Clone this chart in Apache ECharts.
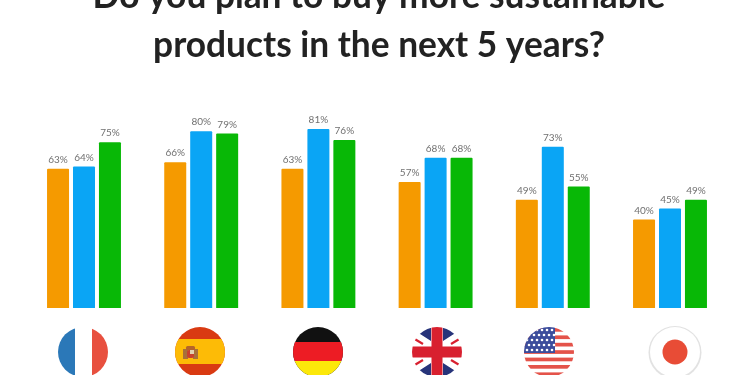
<!DOCTYPE html>
<html>
<head>
<meta charset="utf-8">
<style>
  html, body { margin: 0; padding: 0; background: #fff; }
  #chart { width: 750px; height: 375px; }
</style>
<script src="https://cdn.jsdelivr.net/npm/echarts@6/dist/echarts.min.js"></script>
</head>
<body>
<div id="chart"></div>
<script>
const countries = ['France', 'Spain', 'Germany', 'UK', 'USA', 'Japan'];
const firstBars = [63, 66, 63, 57, 49, 40];
const secondBars = [64, 80, 81, 68, 73, 45];
const thirdBars = [75, 79, 76, 68, 55, 49];
const flagCentres = [83, 200, 318, 437, 549, 675];

const round = (body) => 'data:image/svg+xml;utf8,' + encodeURIComponent(
  '<svg xmlns="http://www.w3.org/2000/svg" width="56" height="56" viewBox="0 0 56 56">' +
  '<defs><clipPath id="c"><circle cx="28" cy="28" r="25"/></clipPath></defs>' +
  '<g clip-path="url(#c)">' + body + '</g></svg>'
);

let usStars = '';
for (let r = 0; r < 5; r++) {
  for (let s = 0; s < 6; s++) {
    usStars += '<circle cx="' + (6 + s * 5 + (r % 2) * 2) + '" cy="' + (6 + r * 5) + '" r="1.3" fill="#fff"/>';
  }
}
let usStripes = '';
for (let i = 0; i < 7; i++) {
  usStripes += '<rect x="0" y="' + (4 + i * 7.4) + '" width="56" height="3.7" fill="#e4534a"/>';
}

const flags = {
  France: round('<rect width="20" height="56" fill="#2b78b8"/><rect x="20" width="17" height="56" fill="#fff"/><rect x="37" width="19" height="56" fill="#e8503f"/>'),
  Spain: round('<rect width="56" height="56" fill="#d93a12"/><rect y="15" width="56" height="25" fill="#fdbb06"/>' +
    '<rect x="11" y="25" width="5" height="10" fill="#a8703a"/><rect x="21" y="25" width="5" height="10" fill="#a8703a"/>' +
    '<rect x="14" y="22" width="9" height="4" rx="1.5" fill="#b5642a"/><rect x="15" y="26" width="7" height="8" rx="2" fill="#c8412e"/><rect x="18" y="26" width="4" height="4" fill="#e0d0b0"/>'),
  Germany: round('<rect width="56" height="56" fill="#111"/><rect y="18" width="56" height="19" fill="#ed1c24"/><rect y="37" width="56" height="19" fill="#fce80a"/>'),
  UK: round('<rect width="56" height="56" fill="#fff"/>' +
    '<path d="M22 17 L8 8 V0 H22 Z M34 17 L48 8 V0 H34 Z M22 39 L8 48 V56 H22 Z M34 39 L48 48 V56 H34 Z" fill="#27347a"/>' +
    '<path d="M4 14 L14 20 M52 14 L42 20 M4 42 L14 36 M52 42 L42 36" stroke="#d8202f" stroke-width="2.2"/>' +
    '<rect x="22.5" width="11" height="56" fill="#d8202f"/><rect y="22.5" width="56" height="11" fill="#d8202f"/>'),
  USA: round('<rect width="56" height="56" fill="#fff"/>' + usStripes + '<rect width="34" height="29" fill="#3c4d9c"/>' + usStars),
  Japan: 'data:image/svg+xml;utf8,' + encodeURIComponent(
    '<svg xmlns="http://www.w3.org/2000/svg" width="56" height="56" viewBox="0 0 56 56">' +
    '<circle cx="28" cy="28.5" r="26.5" fill="#e2e2e2"/><circle cx="28" cy="28" r="25" fill="#fff"/><circle cx="28" cy="28" r="12.5" fill="#e84c36"/></svg>'
  )
};

const barSeries = (values, color) => ({
  type: 'bar',
  data: values,
  barWidth: 22,
  barGap: '18%',
  itemStyle: { color: color, borderRadius: [1, 1, 0, 0] },
  label: {
    show: true,
    position: 'top',
    distance: 4,
    formatter: '{c}%',
    color: '#707070',
    fontSize: 10,
    fontFamily: 'Lato'
  }
});

const chart = echarts.init(document.getElementById('chart'), null, { renderer: 'canvas' });

chart.setOption({
  animation: false,
  backgroundColor: '#fff',
  title: {
    text: 'Do you plan to buy more sustainable\nproducts in the next 5 years?',
    left: 374,
    top: -33,
    textAlign: 'center',
    textStyle: {
      color: '#222222',
      fontFamily: 'Lato',
      fontWeight: 'bold',
      fontSize: 35.3,
      lineHeight: 49
    }
  },
  grid: { left: 25.4, right: 21.4, top: 87, bottom: 67 },
  xAxis: {
    type: 'category',
    data: countries,
    axisLine: { show: false },
    axisTick: { show: false },
    axisLabel: { show: false }
  },
  yAxis: {
    type: 'value',
    min: 0,
    max: 100,
    show: false
  },
  series: [
    barSeries(firstBars, '#f59a00'),
    barSeries(secondBars, '#0aa5f5'),
    barSeries(thirdBars, '#08b806')
  ],
  graphic: countries.map((name, i) => ({
    type: 'image',
    x: flagCentres[i] - 28,
    y: 352 - 28,
    style: { image: flags[name], width: 56, height: 56 }
  }))
});

window.addEventListener('resize', () => chart.resize());
</script>
</body>
</html>
